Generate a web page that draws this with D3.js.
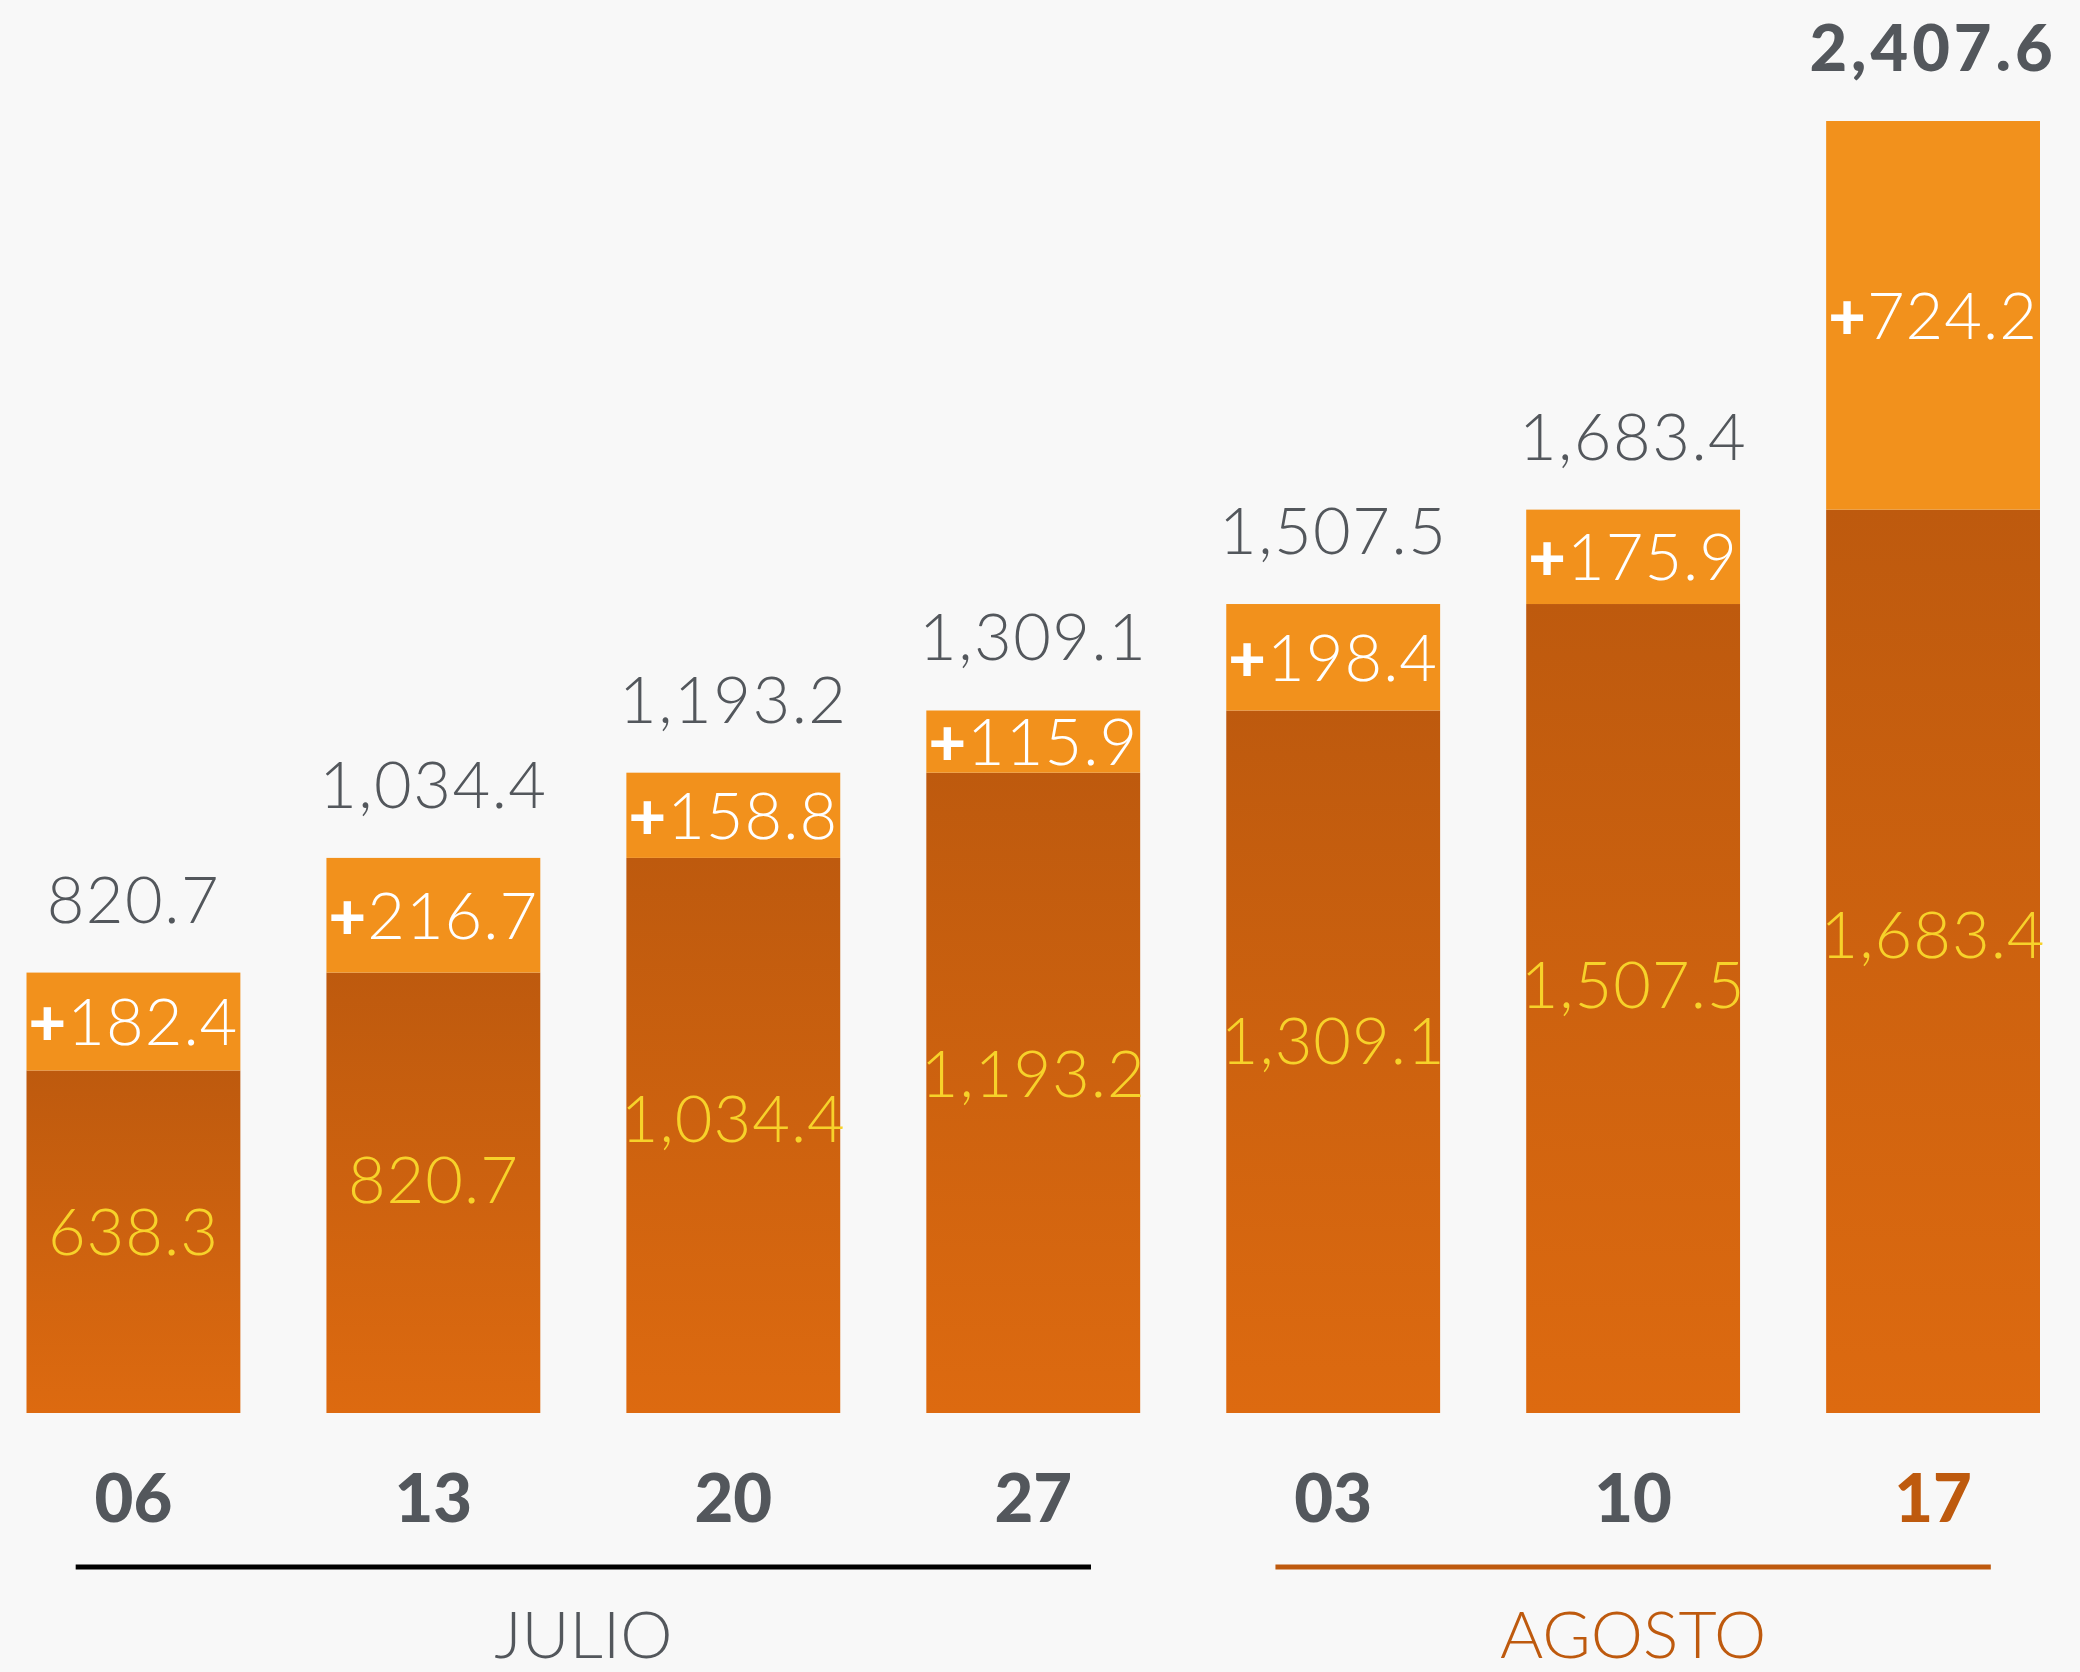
<!DOCTYPE html>
<html>
<head>
<meta charset="utf-8">
<script src="https://cdn.jsdelivr.net/npm/d3@7"></script>
<style>
  html, body { margin: 0; padding: 0; background: #f8f8f8; }
  svg { display: block; font-family: Lato, "Open Sans", sans-serif; }
</style>
</head>
<body>
<div id="viz"></div>
<script>
// semanas
var weeks = ["06", "13", "20", "27", "03", "10", "17"];
var months = ["JULIO", "JULIO", "JULIO", "JULIO", "AGOSTO", "AGOSTO", "AGOSTO"];
var baseValues = [638.3, 820.7, 1034.4, 1193.2, 1309.1, 1507.5, 1683.4];
var addedValues = [182.4, 216.7, 158.8, 115.9, 198.4, 175.9, 724.2];
var totalValues = [820.7, 1034.4, 1193.2, 1309.1, 1507.5, 1683.4, 2407.6];

var width = 2080,
    height = 1672,
    margin = { top: 121, right: 40, bottom: 259, left: 26.5 };

var gray = '#53575c',
    dark = '#be5a0e',
    light = '#f2911c',
    yellow = '#f7d22a';

var fmt = d3.format(',.1f');

var data = weeks.map(function (w, i) {
    return { week: w, month: months[i], base: baseValues[i], added: addedValues[i], total: totalValues[i] };
});

var xScale = d3.scaleBand()
    .domain(weeks)
    .range([margin.left, width - margin.right])
    .paddingInner(0.287)
    .paddingOuter(0);

var yScale = d3.scaleLinear()
    .domain([0, d3.max(totalValues)])
    .range([height - margin.bottom, margin.top]);

var bw = xScale.bandwidth();
var lastMonth = months[months.length - 1];

var svg = d3.select('#viz').append('svg')
    .attr('width', width)
    .attr('height', height);

svg.append('rect')
    .attr('width', width)
    .attr('height', height)
    .attr('fill', '#f8f8f8');

var grad = svg.append('defs').append('linearGradient')
    .attr('id', 'baseGrad')
    .attr('x1', 0).attr('y1', 0)
    .attr('x2', 0).attr('y2', 1);
grad.append('stop').attr('offset', '0%').attr('stop-color', '#be5a0e');
grad.append('stop').attr('offset', '100%').attr('stop-color', '#dd6a10');

var bars = svg.append('g').selectAll('g')
    .data(data)
    .enter().append('g');

// parte acumulada
bars.append('rect')
    .attr('x', function (d) { return xScale(d.week); })
    .attr('width', bw)
    .attr('y', function (d) { return yScale(d.base); })
    .attr('height', function (d) { return yScale(0) - yScale(d.base); })
    .attr('fill', 'url(#baseGrad)');

// incremento semanal
bars.append('rect')
    .attr('x', function (d) { return xScale(d.week); })
    .attr('width', bw)
    .attr('y', function (d) { return yScale(d.total); })
    .attr('height', function (d) { return yScale(d.base) - yScale(d.total); })
    .attr('fill', light);

var fs = 65;

// totales arriba
bars.append('text')
    .attr('x', function (d) { return xScale(d.week) + bw / 2; })
    .attr('y', function (d) { return yScale(d.total) - 50; })
    .attr('text-anchor', 'middle')
    .attr('font-size', fs)
    .attr('font-weight', function (d, i) { return i === data.length - 1 ? 900 : 300; })
    .attr('letter-spacing', function (d, i) { return i === data.length - 1 ? 4 : 1.5; })
    .attr('fill', gray)
    .text(function (d) { return fmt(d.total); });

// +incremento
var plus = bars.append('text')
    .attr('x', function (d) { return xScale(d.week) + bw / 2; })
    .attr('y', function (d) { return (yScale(d.total) + yScale(d.base)) / 2 + fs * 0.36; })
    .attr('text-anchor', 'middle')
    .attr('font-size', fs)
    .attr('font-weight', 300)
    .attr('letter-spacing', 1)
    .attr('fill', '#ffffff');
plus.append('tspan').attr('font-weight', 900).text('+');
plus.append('tspan').text(function (d) { return fmt(d.added); });

// base
bars.append('text')
    .attr('x', function (d) { return xScale(d.week) + bw / 2; })
    .attr('y', function (d) { return yScale(d.base) + (yScale(0) - yScale(d.base)) * 0.47 + fs * 0.36; })
    .attr('text-anchor', 'middle')
    .attr('font-size', fs)
    .attr('font-weight', 300)
    .attr('letter-spacing', 1)
    .attr('fill', yellow)
    .text(function (d) { return fmt(d.base); });

// dias
svg.append('g').selectAll('text')
    .data(data)
    .enter().append('text')
    .attr('x', function (d) { return xScale(d.week) + bw / 2; })
    .attr('y', 1522)
    .attr('text-anchor', 'middle')
    .attr('font-size', 67)
    .attr('font-weight', 900)
    .attr('fill', function (d, i) { return i === data.length - 1 ? dark : gray; })
    .text(function (d) { return d.week; });

// meses
var groups = Array.from(d3.group(data, function (d) { return d.month; }));

function lineStart(d) { return xScale(d[1][0].week) + bw * 0.23; }
function lineEnd(d) { return xScale(d[1][d[1].length - 1].week) + bw * 0.77; }

var monthG = svg.append('g').selectAll('g')
    .data(groups)
    .enter().append('g');

monthG.append('line')
    .attr('x1', lineStart)
    .attr('x2', lineEnd)
    .attr('y1', 1567)
    .attr('y2', 1567)
    .attr('stroke', function (d) { return d[0] === lastMonth ? dark : '#000'; })
    .attr('stroke-width', 5);

monthG.append('text')
    .attr('x', function (d) { return (lineStart(d) + lineEnd(d)) / 2; })
    .attr('y', 1658)
    .attr('text-anchor', 'middle')
    .attr('font-size', 66)
    .attr('font-weight', 300)
    .attr('fill', function (d) { return d[0] === lastMonth ? dark : gray; })
    .text(function (d) { return d[0]; });
</script>
</body>
</html>
